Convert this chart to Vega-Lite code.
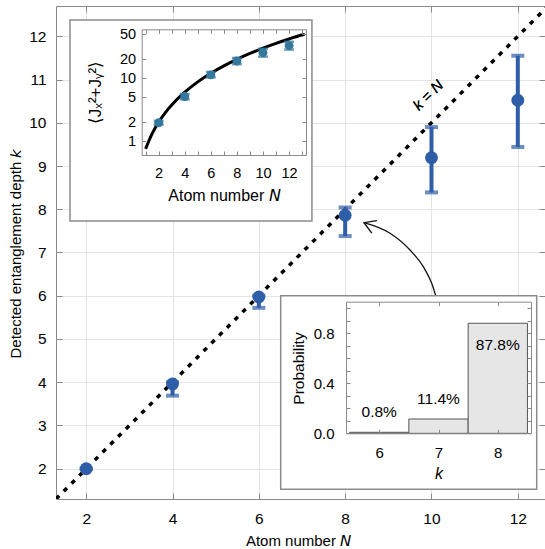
{
  "$schema": "https://vega.github.io/schema/vega-lite/v6.json",
  "width": 489,
  "height": 493,
  "autosize": "none",
  "padding": {"left": 56, "top": 6, "right": 0, "bottom": 50},
  "background": "white",
  "config": {
    "view": {"stroke": null},
    "axis": {
      "labelFont": "Liberation Sans", "titleFont": "Liberation Sans",
      "labelFontSize": 14, "titleFontSize": 15, "titleFontWeight": "normal",
      "labelColor": "#000", "titleColor": "#000",
      "domainColor": "#8a8a8a", "tickColor": "#8a8a8a", "gridColor": "#e4e4e4",
      "labelFlush": false, "labelOverlap": false
    },
    "text": {"font": "Liberation Sans"}
  },
  "datasets": {
    "main": [
      {"N": 2, "k": 2.0, "lo": 2.0, "hi": 2.0},
      {"N": 4, "k": 3.96, "lo": 3.69, "hi": 4.0},
      {"N": 6, "k": 5.97, "lo": 5.72, "hi": 6.0},
      {"N": 8, "k": 7.86, "lo": 7.38, "hi": 8.04},
      {"N": 10, "k": 9.19, "lo": 8.39, "hi": 9.9},
      {"N": 12, "k": 10.52, "lo": 9.44, "hi": 11.55}
    ],
    "diag": [{"N": 1.3, "k": 1.3}, {"N": 12.7, "k": 12.7}],
    "arrow": [
      {"i": 0, "N": 8.436, "k": 7.69},
      {"i": 1, "N": 9.039, "k": 7.445},
      {"i": 2, "N": 9.502, "k": 7.058},
      {"i": 3, "N": 9.81, "k": 6.672},
      {"i": 4, "N": 10.005, "k": 6.288},
      {"i": 5, "N": 10.105, "k": 5.979}
    ],
    "boxes": [
      {"x1": 1.624, "x2": 7.23, "y1": 12.376, "y2": 7.729},
      {"x1": 6.506, "x2": 12.438, "y1": 6.002, "y2": 1.525}
    ],
    "curve": [
      {"N": 1.0, "v": 0.75}, {"N": 1.5, "v": 1.31}, {"N": 2, "v": 2.0}, {"N": 2.5, "v": 2.81},
      {"N": 3, "v": 3.75}, {"N": 4, "v": 6.0}, {"N": 5, "v": 8.75}, {"N": 6, "v": 12.0},
      {"N": 7, "v": 15.75}, {"N": 8, "v": 20.0}, {"N": 9, "v": 24.75}, {"N": 10, "v": 30.0},
      {"N": 11, "v": 35.75}, {"N": 12, "v": 42.0}, {"N": 13, "v": 48.75}, {"N": 13.2, "v": 49.4}
    ],
    "inset": [
      {"N": 2, "v": 1.95, "lo": 1.82, "hi": 2.1},
      {"N": 4, "v": 5.1, "lo": 4.6, "hi": 5.6},
      {"N": 6, "v": 11.3, "lo": 10.3, "hi": 12.6},
      {"N": 8, "v": 18.8, "lo": 16.7, "hi": 21.0},
      {"N": 10, "v": 25.5, "lo": 22.0, "hi": 29.5},
      {"N": 12, "v": 33.0, "lo": 28.5, "hi": 38.0}
    ],
    "prob": [
      {"k": 6, "lo": 5.5, "hi": 6.5, "p": 0.008, "label": "0.8%"},
      {"k": 7, "lo": 6.5, "hi": 7.5, "p": 0.114, "label": "11.4%"},
      {"k": 8, "lo": 7.5, "hi": 8.5, "p": 0.878, "label": "87.8%"}
    ]
  },
  "layer": [
    {
      "layer": [
        {
          "data": {"name": "diag"},
          "mark": {"type": "line", "color": "black", "strokeWidth": 3.5, "strokeDash": [4.5, 6.5], "clip": true},
          "encoding": {
            "x": {"field": "N", "type": "quantitative", "scale": {"domain": [1.3, 12.63], "nice": false, "zero": false},
              "axis": {"orient": "bottom", "values": [2, 4, 6, 8, 10, 12], "grid": true, "tickSize": -6, "labelPadding": 18, "labelFontSize": 15.5,
                "title": "Atom number 𝘕", "titleX": 242, "titleY": 41, "titleBaseline": "middle", "titleAlign": "center", "zindex": 0}},
            "y": {"field": "k", "type": "quantitative", "scale": {"domain": [1.3, 12.7], "nice": false, "zero": false},
              "axis": {"orient": "left", "values": [2, 3, 4, 5, 6, 7, 8, 9, 10, 11, 12], "grid": true, "tickSize": -6, "labelPadding": 16, "labelFontSize": 15.5,
                "title": "Detected entanglement depth 𝘬", "titleX": -41, "titleY": 247, "titleBaseline": "middle", "titleAlign": "center", "titleAngle": 270, "zindex": 0}}
          }
        },
        {
          "data": {"name": "main"},
          "mark": {"type": "rule", "color": "#2f5ea8", "strokeWidth": 4},
          "encoding": {
            "x": {"field": "N", "type": "quantitative",
              "axis": {"orient": "top", "values": [2, 4, 6, 8, 10, 12], "grid": false, "labels": false, "tickSize": -6, "title": null}},
            "y": {"field": "lo", "type": "quantitative",
              "axis": {"orient": "right", "values": [2, 3, 4, 5, 6, 7, 8, 9, 10, 11, 12], "grid": false, "labels": false, "domain": false, "tickSize": -6, "title": null}},
            "y2": {"field": "hi"}
          }
        },
        {
          "data": {"name": "main"},
          "mark": {"type": "tick", "orient": "horizontal", "color": "#2f5ea8", "size": 13, "thickness": 4},
          "encoding": {
            "x": {"field": "N", "type": "quantitative", "axis": null},
            "y": {"field": "lo", "type": "quantitative", "axis": null}
          }
        },
        {
          "data": {"name": "main"},
          "mark": {"type": "tick", "orient": "horizontal", "color": "#2f5ea8", "size": 13, "thickness": 4},
          "encoding": {
            "x": {"field": "N", "type": "quantitative", "axis": null},
            "y": {"field": "hi", "type": "quantitative", "axis": null}
          }
        },
        {
          "data": {"name": "main"},
          "mark": {"type": "point", "shape": "circle", "filled": true, "color": "#2f5ea8", "size": 165, "opacity": 1},
          "encoding": {
            "x": {"field": "N", "type": "quantitative", "axis": null},
            "y": {"field": "k", "type": "quantitative", "axis": null}
          }
        },
        {
          "data": {"name": "diag"},
          "mark": {"type": "text", "text": "k = N", "fontSize": 15, "fontStyle": "italic", "angle": 315, "dy": -22, "align": "center", "baseline": "middle", "color": "black"},
          "encoding": {
            "x": {"datum": 10.28, "type": "quantitative", "axis": null},
            "y": {"datum": 10.28, "type": "quantitative", "axis": null}
          }
        },
        {
          "data": {"name": "arrow"},
          "mark": {"type": "line", "interpolate": "monotone", "color": "#111", "strokeWidth": 1.3},
          "encoding": {
            "x": {"field": "N", "type": "quantitative", "axis": null},
            "y": {"field": "k", "type": "quantitative", "axis": null},
            "order": {"field": "i"}
          }
        },
        {
          "data": {"name": "arrow"},
          "transform": [{"filter": "datum.i == 0"}],
          "mark": {"type": "point", "shape": "M 1 -0.6 L 0 0 L 1 0.6", "filled": false, "stroke": "#111", "strokeWidth": 1.4, "size": 500, "angle": 22, "opacity": 1},
          "encoding": {
            "x": {"field": "N", "type": "quantitative", "axis": null},
            "y": {"field": "k", "type": "quantitative", "axis": null}
          }
        },
        {
          "data": {"name": "boxes"},
          "mark": {"type": "rect", "fill": "white", "stroke": "#8c8c8c", "strokeWidth": 1.5},
          "encoding": {
            "x": {"field": "x1", "type": "quantitative", "axis": null},
            "x2": {"field": "x2"},
            "y": {"field": "y1", "type": "quantitative", "axis": null},
            "y2": {"field": "y2"}
          }
        }
      ],
      "resolve": {"axis": {"x": "independent", "y": "independent"}}
    },
    {
      "layer": [
        {
          "data": {"name": "curve"},
          "mark": {"type": "line", "interpolate": "monotone", "color": "black", "strokeWidth": 3},
          "encoding": {
            "x": {"field": "N", "type": "quantitative", "scale": {"domain": [0.7, 13.3], "range": [85.7, 250], "nice": false, "zero": false},
              "axis": {"orient": "bottom", "offset": -344, "values": [1, 2, 3, 4, 5, 6, 7, 8, 9, 10, 11, 12, 13],
                "labelExpr": "datum.value % 2 == 0 ? datum.label : ''", "grid": false, "tickSize": -4, "labelPadding": 15, "labelFontSize": 14.5,
                "title": "Atom number 𝘕", "titleFontSize": 16, "titleX": 168, "titleY": 40, "titleBaseline": "middle", "titleAlign": "center", "zindex": 1}},
            "y": {"field": "v", "type": "quantitative", "scale": {"type": "log", "domain": [0.6, 60], "range": [149, 23.3], "nice": false},
              "axis": {"orient": "left", "offset": -85.7, "values": [1, 2, 5, 10, 20, 50], "format": "d", "grid": false, "tickSize": -4, "labelPadding": 10, "labelFontSize": 14.5,
                "title": "⟨Jₓ²+Jᵧ²⟩", "titleFontSize": 17, "titleX": -46, "titleY": 86, "titleBaseline": "middle", "titleAlign": "center", "titleAngle": 270, "zindex": 1}}
          }
        },
        {
          "data": {"name": "inset"},
          "mark": {"type": "rule", "color": "#35789e", "strokeWidth": 2.5},
          "encoding": {
            "x": {"field": "N", "type": "quantitative",
              "axis": {"orient": "top", "offset": -23.3, "values": [1, 2, 3, 4, 5, 6, 7, 8, 9, 10, 11, 12, 13], "labels": false, "grid": false, "tickSize": -4, "title": null, "zindex": 1}},
            "y": {"field": "lo", "type": "quantitative",
              "axis": {"orient": "right", "offset": -239, "values": [1, 2, 5, 10, 20, 50], "labels": false, "grid": false, "tickSize": -4, "title": null, "zindex": 1}},
            "y2": {"field": "hi"}
          }
        },
        {
          "data": {"name": "inset"},
          "mark": {"type": "tick", "orient": "horizontal", "color": "#35789e", "size": 10, "thickness": 2.5},
          "encoding": {
            "x": {"field": "N", "type": "quantitative", "axis": null},
            "y": {"field": "lo", "type": "quantitative", "axis": null}
          }
        },
        {
          "data": {"name": "inset"},
          "mark": {"type": "tick", "orient": "horizontal", "color": "#35789e", "size": 10, "thickness": 2.5},
          "encoding": {
            "x": {"field": "N", "type": "quantitative", "axis": null},
            "y": {"field": "hi", "type": "quantitative", "axis": null}
          }
        },
        {
          "data": {"name": "inset"},
          "mark": {"type": "point", "shape": "circle", "filled": true, "color": "#35789e", "size": 80, "opacity": 1},
          "encoding": {
            "x": {"field": "N", "type": "quantitative", "axis": null},
            "y": {"field": "v", "type": "quantitative", "axis": null}
          }
        }
      ],
      "resolve": {"axis": {"x": "independent", "y": "independent"}}
    },
    {
      "layer": [
        {
          "data": {"name": "prob"},
          "mark": {"type": "rect", "fill": "#e6e6e6", "stroke": "#555", "strokeWidth": 1},
          "encoding": {
            "x": {"field": "lo", "type": "quantitative", "scale": {"domain": [5.44, 8.56], "range": [290, 475], "nice": false, "zero": false},
              "axis": {"orient": "bottom", "offset": -65.7, "values": [6, 7, 8], "grid": false, "tickSize": -4, "labelPadding": 16, "labelFontSize": 15,
                "title": "k", "titleFontStyle": "italic", "titleFontSize": 16, "titleX": 382.5, "titleY": 40, "titleBaseline": "middle", "titleAlign": "center", "zindex": 1}},
            "x2": {"field": "hi"},
            "y": {"field": "p", "type": "quantitative", "scale": {"domain": [0, 1.05], "range": [427.3, 295.7], "nice": false},
              "axis": {"orient": "left", "offset": -290, "values": [0, 0.1, 0.2, 0.3, 0.4, 0.5, 0.6, 0.7, 0.8, 0.9, 1.0],
                "labelExpr": "(abs(datum.value) < 0.001 || abs(datum.value - 0.4) < 0.001 || abs(datum.value - 0.8) < 0.001) ? format(datum.value, '.1f') : ''",
                "grid": false, "tickSize": -4, "labelPadding": 16, "labelFontSize": 15,
                "title": "Probability", "titleFontSize": 15.5, "titleX": -48, "titleY": 362, "titleBaseline": "middle", "titleAlign": "center", "titleAngle": 270, "zindex": 1}},
            "y2": {"datum": 0}
          }
        },
        {
          "data": {"name": "prob"},
          "transform": [{"filter": "datum.p < 0.5"}],
          "mark": {"type": "text", "fontSize": 15.5, "dy": -20, "align": "center", "baseline": "middle", "color": "black"},
          "encoding": {
            "x": {"field": "k", "type": "quantitative",
              "axis": {"orient": "top", "offset": -295.7, "values": [6, 7, 8], "labels": false, "grid": false, "tickSize": -4, "title": null, "zindex": 1}},
            "y": {"field": "p", "type": "quantitative",
              "axis": {"orient": "right", "offset": -14, "values": [0, 0.1, 0.2, 0.3, 0.4, 0.5, 0.6, 0.7, 0.8, 0.9, 1.0], "labels": false, "grid": false, "tickSize": -4, "title": null, "zindex": 1}},
            "text": {"field": "label"}
          }
        },
        {
          "data": {"name": "prob"},
          "transform": [{"filter": "datum.p >= 0.5"}],
          "mark": {"type": "text", "fontSize": 15.5, "dy": 22, "align": "center", "baseline": "middle", "color": "black"},
          "encoding": {
            "x": {"field": "k", "type": "quantitative", "axis": null},
            "y": {"field": "p", "type": "quantitative", "axis": null},
            "text": {"field": "label"}
          }
        }
      ],
      "resolve": {"axis": {"x": "independent", "y": "independent"}}
    }
  ],
  "resolve": {"scale": {"x": "independent", "y": "independent"}, "axis": {"x": "independent", "y": "independent"}}
}
